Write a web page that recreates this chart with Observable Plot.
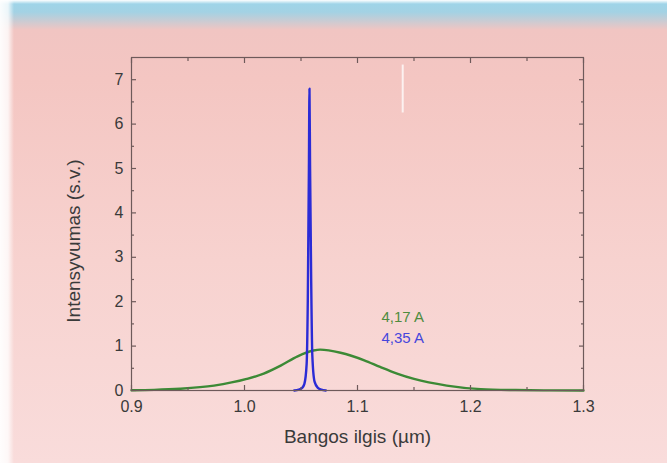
<!DOCTYPE html>
<html>
<head>
<meta charset="utf-8">
<script src="https://cdn.jsdelivr.net/npm/d3@7"></script>
<script src="https://cdn.jsdelivr.net/npm/@observablehq/plot@0.6"></script>
<style>
  html, body { margin: 0; padding: 0; }
  #wrap {
    position: relative; width: 667px; height: 463px; overflow: hidden;
    background: linear-gradient(to bottom, #ffffff 0px, #9fd4e8 4px, #a3d2e4 12px, #f1c5c2 30px, #f4c6c2 80px, #f7d2cf 260px, #f9dcdb 463px);
  }
  #wrap::before {
    content: ""; position: absolute; left: 0; top: 0; width: 14px; height: 463px;
    background: linear-gradient(to right, rgba(255,255,255,0.95) 0px, rgba(255,255,255,0.8) 8px, rgba(255,255,255,0) 14px);
  }
  #wrap svg { position: absolute; left: 0; top: 0; background: transparent; }
</style>
</head>
<body>
<div id="wrap"></div>
<script>
// Green spectrum (4,17 A)
const greenX = [0.900, 0.920, 0.943, 0.973, 1.002, 1.017, 1.032, 1.047, 1.061, 1.067, 1.085, 1.106, 1.120, 1.135, 1.150, 1.179, 1.209, 1.240, 1.270, 1.300];
const greenY = [0.005, 0.015, 0.04, 0.11, 0.26, 0.38, 0.56, 0.77, 0.90, 0.92, 0.85, 0.68, 0.53, 0.38, 0.26, 0.11, 0.03, 0.01, 0.003, 0.0];

// Blue spectrum (4,35 A) – narrow peak
const blueX = [1.044, 1.048, 1.051, 1.053, 1.055, 1.056, 1.057, 1.0575, 1.058, 1.059, 1.060, 1.062, 1.065, 1.068, 1.072];
const blueY = [0.0, 0.02, 0.06, 0.15, 0.6, 2.0, 5.0, 6.8, 5.1, 2.5, 0.8, 0.2, 0.06, 0.02, 0.0];

// Axis ticks
const xMajor = [0.9, 1.0, 1.1, 1.2, 1.3];
const xMinor = [0.95, 1.05, 1.15, 1.25];
const yMajor = [0, 1, 2, 3, 4, 5, 6, 7];
const yMinor = [0.5, 1.5, 2.5, 3.5, 4.5, 5.5, 6.5];

// Texts
const xTitle = "Bangos ilgis (µm)";
const yTitle = "Intensyvumas (s.v.)";
const labels = [
  {x: 1.14, y: 1.66, text: "4,17 A", color: "#4f8c3e"},
  {x: 1.14, y: 1.18, text: "4,35 A", color: "#4646dc"}
];
// faint white streak visible in the picture
const streak = [{x: 1.14, y1: 6.25, y2: 7.33}];

const green = greenX.map((x, i) => ({x, y: greenY[i]}));
const blue = blueX.map((x, i) => ({x, y: blueY[i]}));

const axisColor = "#6e5a5a";
const font = "'Liberation Sans', Arial, sans-serif";
const noText = () => "";

const chart = Plot.plot({
  width: 667,
  height: 463,
  marginLeft: 131,
  marginRight: 84,
  marginTop: 57,
  marginBottom: 73,
  style: {background: "transparent", fontFamily: font, color: "#333"},
  x: {domain: [0.9, 1.3]},
  y: {domain: [0, 7.5]},
  marks: [
    Plot.ruleX(streak, {x: "x", y1: "y1", y2: "y2", stroke: "#ffffff", strokeWidth: 2, strokeOpacity: 0.75}),
    Plot.line(green, {x: "x", y: "y", stroke: "#3c8a36", strokeWidth: 2.4, curve: "monotone-x"}),
    Plot.line(blue, {x: "x", y: "y", stroke: "#2b2bd6", strokeWidth: 2.4, curve: "monotone-x"}),
    Plot.frame({stroke: axisColor, strokeWidth: 1.2}),
    // inward ticks on all sides
    Plot.axisX({anchor: "bottom", ticks: xMajor, tickSize: -5, tickFormat: noText, stroke: axisColor, strokeWidth: 1.2, label: null}),
    Plot.axisX({anchor: "top", ticks: xMajor, tickSize: -5, tickFormat: noText, stroke: axisColor, strokeWidth: 1.2, label: null}),
    Plot.axisX({anchor: "bottom", ticks: xMinor, tickSize: -3, tickFormat: noText, stroke: axisColor, strokeWidth: 1.2, label: null}),
    Plot.axisX({anchor: "top", ticks: xMinor, tickSize: -3, tickFormat: noText, stroke: axisColor, strokeWidth: 1.2, label: null}),
    Plot.axisY({anchor: "left", ticks: yMajor, tickSize: -5, tickFormat: noText, stroke: axisColor, strokeWidth: 1.2, label: null}),
    Plot.axisY({anchor: "right", ticks: yMajor, tickSize: -5, tickFormat: noText, stroke: axisColor, strokeWidth: 1.2, label: null}),
    Plot.axisY({anchor: "left", ticks: yMinor, tickSize: -3, tickFormat: noText, stroke: axisColor, strokeWidth: 1.2, label: null}),
    Plot.axisY({anchor: "right", ticks: yMinor, tickSize: -3, tickFormat: noText, stroke: axisColor, strokeWidth: 1.2, label: null}),
    // tick labels
    Plot.axisX({anchor: "bottom", ticks: xMajor, tickSize: 0, tickPadding: 10, tickFormat: d3.format(".1f"), fontSize: 16, fill: "#3a3a3a", label: null}),
    Plot.axisY({anchor: "left", ticks: yMajor, tickSize: 0, tickPadding: 8, tickFormat: d3.format("d"), fontSize: 16, fill: "#3a3a3a", label: null}),
    // axis titles
    Plot.text([xTitle], {frameAnchor: "bottom", dy: 52, text: d => d, fontSize: 19, fill: "#3a3a3a"}),
    Plot.text([yTitle], {frameAnchor: "left", dx: -58, dy: 17, rotate: -90, textAnchor: "middle", text: d => d, fontSize: 19, fill: "#3a3a3a"}),
    // series labels
    Plot.text(labels, {x: "x", y: "y", text: "text", fill: "color", fontSize: 15})
  ]
});
document.getElementById("wrap").appendChild(chart);
</script>
</body>
</html>
